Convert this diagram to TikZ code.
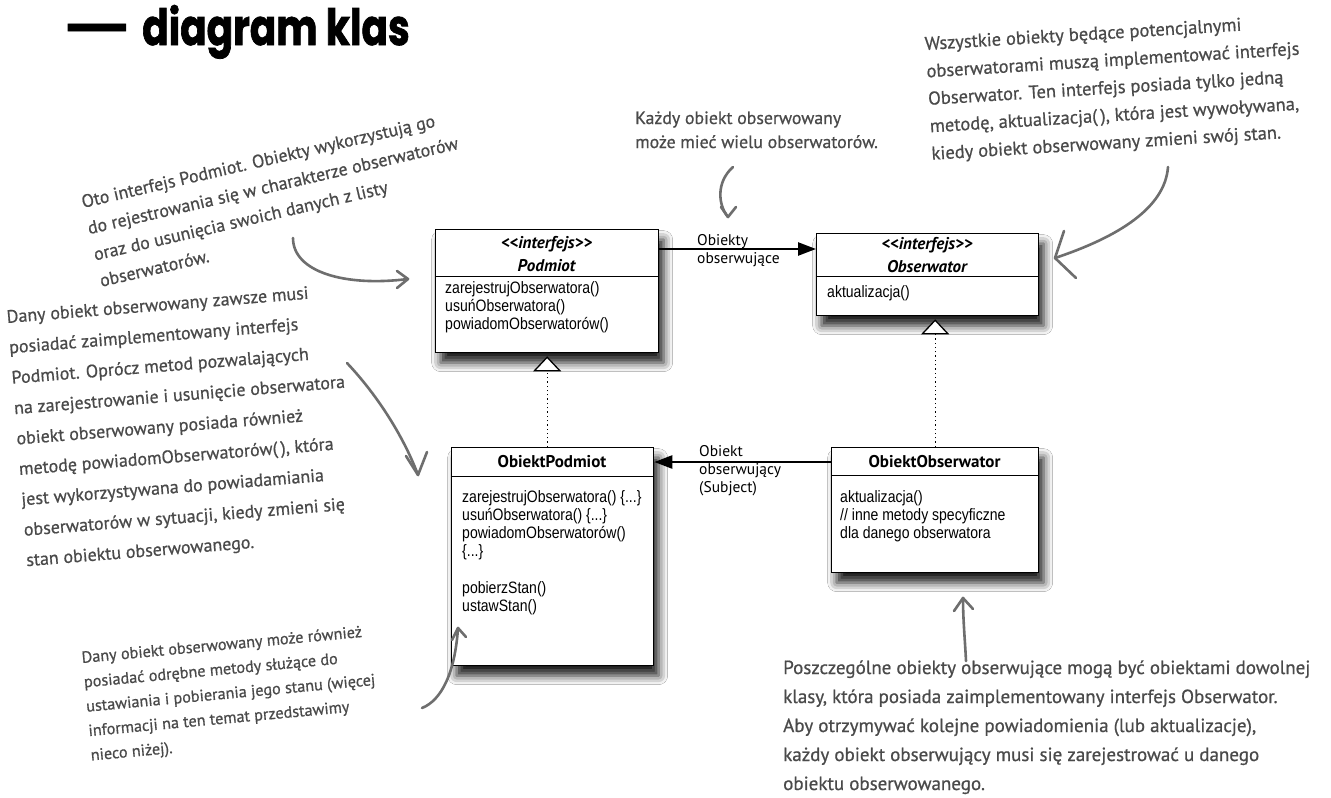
\documentclass[tikz,border=0pt]{standalone}
\usepackage{fontspec}
\usepackage{graphicx}
\setmainfont{Liberation Sans}
\newfontfamily\umlfont[FakeStretch=0.85]{Liberation Sans}
\newfontfamily\labelfont{PT Sans}
\newfontfamily\handfont[FakeBold=0.7]{PT Sans}
\newfontfamily\titlefont[BoldFeatures={FakeBold=1.6}]{Poppins}
\usetikzlibrary{arrows.meta,shadows.blur}

\definecolor{notegray}{HTML}{4A4A4A}
\definecolor{arrowgray}{HTML}{6E6E6E}

% left- and centre-aligned line stacks whose baseline is the first line
\newcommand\leftlines[1]{\begin{tabular}[t]{@{}l@{}}#1\end{tabular}}
\newcommand\centrelines[1]{\begin{tabular}[t]{@{}c@{}}#1\end{tabular}}

\begin{document}
\begin{tikzpicture}[x=1pt,y=-1pt,
  classbox/.style={draw=black, line width=1.3pt, fill=white, rectangle,
    inner sep=0pt, anchor=north west,
    blur shadow={shadow xshift=5pt, shadow yshift=-10pt,
      shadow blur radius=9pt, shadow opacity=90}},
  divider/.style={line width=1pt},
  stereo/.style={font=\labelfont\bfseries\itshape\fontsize{17}{23}\selectfont,
    inner sep=0pt, anchor=base},
  classname/.style={font=\labelfont\bfseries\fontsize{17}{20}\selectfont,
    inner sep=0pt, anchor=base},
  methods/.style={font=\umlfont\fontsize{16.5}{18.3}\selectfont,
    inner sep=0pt, anchor=base west},
  assoclabel/.style={font=\labelfont\fontsize{15.5}{18.3}\selectfont,
    inner sep=0pt, anchor=base west},
  assoc/.style={line width=2.4pt, -{Triangle[length=18pt, width=13pt]}},
  realize/.style={line width=1.3pt, dash pattern={on 1.3pt off 3pt},
    shorten >=3pt,
    -{Triangle[open, length=15pt, width=28pt, fill=white, line width=1.3pt]}},
  note/.style={font=\handfont, text=notegray, inner sep=0pt, anchor=base west},
  notearrow/.style={draw=arrowgray, line width=2.6pt, line cap=round,
    line join=round}
]
\fill[white] (0,0) rectangle (1331,798);
\useasboundingbox (0,0) rectangle (1331,798);

% ---------- title ----------
\node[inner sep=0pt, anchor=base west] (titledash) at (63,45)
  {\titlefont\bfseries\fontsize{50}{50}\selectfont\scalebox{1.45}[1]{—}};
\node[inner sep=0pt, anchor=base west] (title) at (142,45)
  {\titlefont\bfseries\fontsize{50}{50}\selectfont\scalebox{0.78}[1]{diagram klas}};

% ---------- class boxes ----------
\node[classbox, minimum width=223pt, minimum height=123pt] (podmiot) at (435,229) {};
\node[classbox, minimum width=222pt, minimum height=82pt] (observator) at (816,233) {};
\node[classbox, minimum width=202pt, minimum height=218pt] (opod) at (451,447) {};
\node[classbox, minimum width=207pt, minimum height=125pt] (oobs) at (831,447) {};

\draw[divider] ([yshift=-47pt]podmiot.north west) -- ([yshift=-47pt]podmiot.north east);
\draw[divider] ([yshift=-43pt]observator.north west) -- ([yshift=-43pt]observator.north east);
\draw[divider] ([yshift=-29pt]opod.north west) -- ([yshift=-29pt]opod.north east);
\draw[divider] ([yshift=-28pt]oobs.north west) -- ([yshift=-28pt]oobs.north east);

% headers
\node[stereo] (podmiothead) at (546.5,248) {\centrelines{<<interfejs>>\\Podmiot}};
\node[stereo] (observatorhead) at (927,249) {\centrelines{<<interfejs>>\\Obserwator}};
\node[classname] (opodhead) at (552,467) {ObiektPodmiot};
\node[classname] (oobshead) at (934.5,467) {ObiektObserwator};

% operations
\node[methods] (podmiotops) at (445,293) {\leftlines{%
  zarejestrujObserwatora()\\usuńObserwatora()\\powiadomObserwatorów()}};
\node[methods] (observatorops) at (827,297) {aktualizacja()};
\node[methods] (opodops) at (462,502) {\leftlines{%
  zarejestrujObserwatora() \{...\}\\usuńObserwatora() \{...\}\\
  powiadomObserwatorów()\\\{...\}\\[18.3pt]pobierzStan()\\ustawStan()}};
\node[methods] (oobsops) at (840,502) {\leftlines{%
  aktualizacja()\\// inne metody specyficzne\\dla danego obserwatora}};

% ---------- relations ----------
\coordinate (hasfrom) at ([yshift=-20pt]podmiot.north east);
\draw[assoc] (hasfrom) -- (hasfrom -| observator.west);
\node[assoclabel] (haslabel) at (697,245) {\leftlines{Obiekty\\obserwujące}};

\coordinate (subjfrom) at ([yshift=-15pt]oobs.north west);
\draw[assoc] (subjfrom) -- (subjfrom -| opod.east);
\node[assoclabel] (subjlabel) at (699,456) {\leftlines{Obiekt\\obserwujący\\(Subject)}};

\draw[realize] (opod.north -| podmiot.south) -- (podmiot.south);
\draw[realize] (oobs.north) -- (oobs.north |- observator.south);

% ---------- notes ----------
\node[note, rotate=13, font=\handfont\fontsize{18}{27}\selectfont] (note1) at (83,208)
  {\leftlines{Oto interfejs Podmiot. Obiekty wykorzystują go\\
  do rejestrowania się w charakterze obserwatorów\\
  oraz do usunięcia swoich danych z listy\\
  obserwatorów.}};

\node[note, font=\handfont\fontsize{17.8}{24}\selectfont] (note2) at (635,124)
  {\leftlines{Każdy obiekt obserwowany\\może mieć wielu obserwatorów.}};

\node[note, rotate=3.5, font=\handfont\fontsize{18.5}{27.5}\selectfont] (note3) at (925,50)
  {\leftlines{Wszystkie obiekty będące potencjalnymi\\
  obserwatorami muszą implementować interfejs\\
  Obserwator. Ten interfejs posiada tylko jedną\\
  metodę, aktualizacja(\,), która jest wywoływana,\\
  kiedy obiekt obserwowany zmieni swój stan.}};

\node[note, rotate=4.6, font=\handfont\fontsize{18}{30.5}\selectfont] (note4) at (7,323)
  {\leftlines{Dany obiekt obserwowany zawsze musi\\
  posiadać zaimplementowany interfejs\\
  Podmiot. Oprócz metod pozwalających\\
  na zarejestrowanie i usunięcie obserwatora\\
  obiekt obserwowany posiada również\\
  metodę powiadomObserwatorów(\,), która\\
  jest wykorzystywana do powiadamiania\\
  obserwatorów w sytuacji, kiedy zmieni się\\
  stan obiektu obserwowanego.}};

\node[note, rotate=5.3, font=\handfont\fontsize{16.2}{24.5}\selectfont] (note5) at (82,663)
  {\leftlines{Dany obiekt obserwowany może również\\
  posiadać odrębne metody służące do\\
  ustawiania i pobierania jego stanu (więcej\\
  informacji na ten temat przedstawimy\\
  nieco niżej).}};

\node[note, font=\handfont\fontsize{19}{29}\selectfont] (note6) at (783,674)
  {\leftlines{Poszczególne obiekty obserwujące mogą być obiektami dowolnej\\
  klasy, która posiada zaimplementowany interfejs Obserwator.\\
  Aby otrzymywać kolejne powiadomienia (lub aktualizacje),\\
  każdy obiekt obserwujący musi się zarejestrować u danego\\
  obiektu obserwowanego.}};

% ---------- note pointers ----------
\coordinate (n1from) at (293,238);
\coordinate (n1tip) at (408,279);
\draw[notearrow] (n1from) .. controls (293,272) and (345,287) .. (n1tip);
\draw[notearrow] (n1tip) ++(-11,-8) -- (n1tip) -- ++(-11,9);

\coordinate (n2from) at (733,167);
\coordinate (n2tip) at (728,217);
\draw[notearrow] (n2from) .. controls (716,182) and (718,205) .. (n2tip);
\draw[notearrow] (n2tip) ++(-7,-10) -- (n2tip) -- ++(8,-10);

\coordinate (n3from) at (1168,167);
\coordinate (n3tip) at (1055,258);
\draw[notearrow] (n3from) .. controls (1165,208) and (1118,237) .. (n3tip);
\draw[notearrow] (n3tip) ++(9,-27) -- (n3tip) -- ++(21,20);

\coordinate (n4from) at (347,363);
\coordinate (n4tip) at (418,475);
\draw[notearrow] (n4from) .. controls (380,398) and (405,440) .. (n4tip);
\draw[notearrow] (n4tip) ++(-12,-19) -- (n4tip) -- ++(9,-23);

\coordinate (n5from) at (422,708);
\coordinate (n5tip) at (458,628);
\draw[notearrow] (n5from) .. controls (442,700) and (455,672) .. (n5tip);
\draw[notearrow] (n5tip) ++(-6,12) -- (n5tip) -- ++(8,9);

\coordinate (n6from) at (966,661);
\coordinate (n6tip) at (963,598);
\draw[notearrow] (n6from) .. controls (965,640) and (963,620) .. (n6tip);
\draw[notearrow] (n6tip) ++(-9,13) -- (n6tip) -- ++(10,11);
\end{tikzpicture}
\end{document}
